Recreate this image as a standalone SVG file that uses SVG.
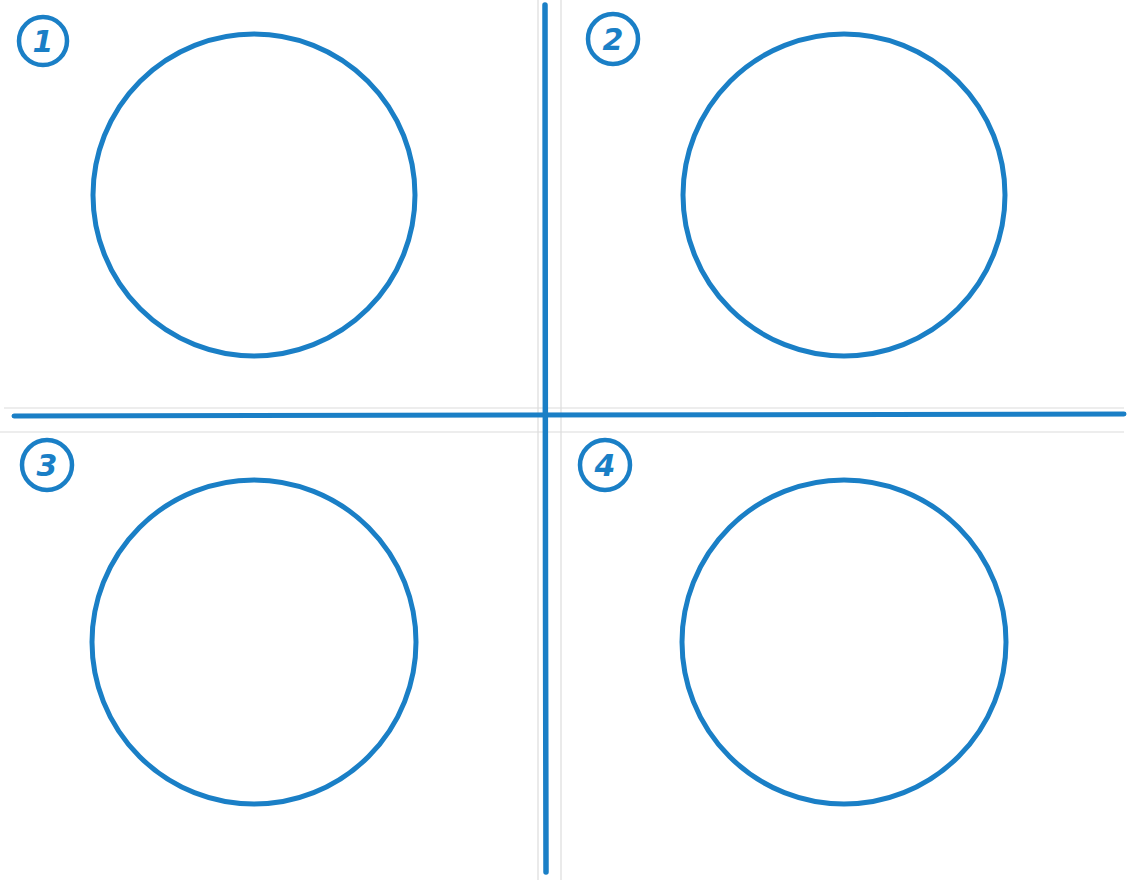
<svg xmlns="http://www.w3.org/2000/svg" width="1128" height="880" viewBox="0 0 1128 880">
  <style>
    .guide { stroke: #dcdcdc; stroke-width: 1.2; fill: none; }
    .axis { stroke: #1a7fc6; stroke-linecap: round; fill: none; }
    .ring { stroke: #1a7fc6; stroke-width: 5; fill: none; }
    .badge { stroke: #1a7fc6; stroke-width: 4.5; fill: #ffffff; }
    .num { font-family: "DejaVu Sans", "Liberation Sans", sans-serif; font-style: italic; font-weight: bold; font-size: 30px; fill: #1a7fc6; text-anchor: middle; }
  </style>
  <rect width="1128" height="880" fill="#ffffff"/>
  <g id="guides">
    <line class="guide" x1="4" y1="408" x2="1124" y2="408"/>
    <line class="guide" x1="0" y1="432" x2="1124" y2="432"/>
    <line class="guide" x1="538" y1="0" x2="538" y2="880"/>
    <line class="guide" x1="561" y1="0" x2="561" y2="880"/>
  </g>
  <g id="connectors">
    <path class="axis" d="M14 416 L1124 414" stroke-width="5"/>
    <path class="axis" d="M545 5 L545.5 600 L546 872" stroke-width="5.5"/>
  </g>
  <g id="quadrant-1">
    <circle class="ring" cx="254" cy="195" r="161"/>
    <circle class="badge" cx="43" cy="41" r="24"/>
    <text class="num" x="43" y="52">1</text>
  </g>
  <g id="quadrant-2">
    <circle class="ring" cx="844" cy="195" r="161"/>
    <circle class="badge" cx="613" cy="39" r="25"/>
    <text class="num" x="613" y="50">2</text>
  </g>
  <g id="quadrant-3">
    <circle class="ring" cx="254" cy="642" r="162"/>
    <circle class="badge" cx="47" cy="465" r="25"/>
    <text class="num" x="47" y="476">3</text>
  </g>
  <g id="quadrant-4">
    <circle class="ring" cx="844" cy="642" r="162"/>
    <circle class="badge" cx="605" cy="465" r="25"/>
    <text class="num" x="605" y="476">4</text>
  </g>
</svg>
